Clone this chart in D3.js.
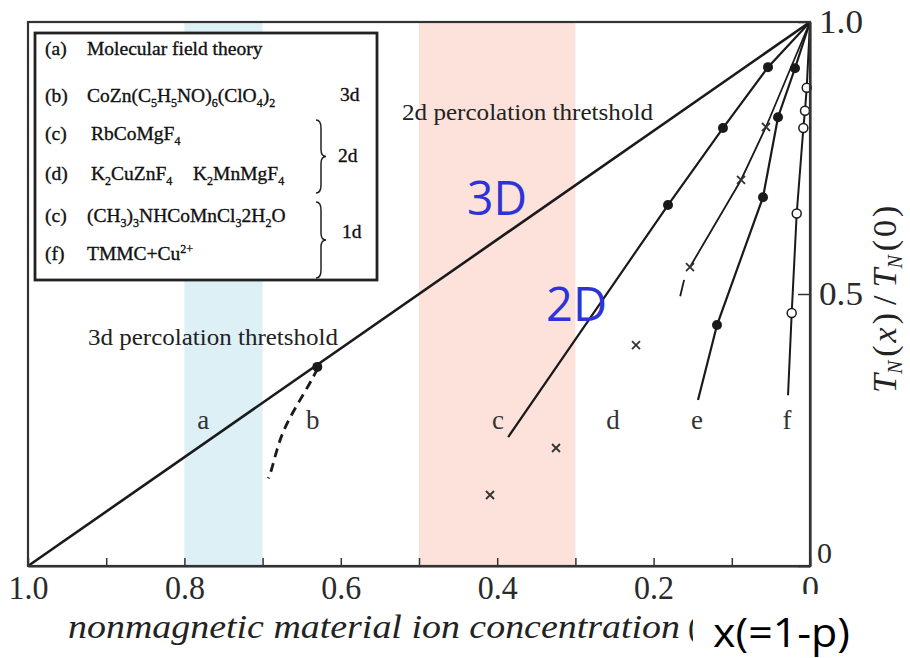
<!DOCTYPE html>
<html><head><meta charset="utf-8">
<script src="https://cdn.jsdelivr.net/npm/d3@7/dist/d3.min.js"></script>
<style>body{margin:0;background:#fff}svg{display:block}</style>
</head><body><svg id="c" width="910" height="658"></svg>
<script>
// ---------- data ----------
const xTickValues = [1.0,0.9,0.8,0.7,0.6,0.5,0.4,0.3,0.2,0.1,0];
const xTickLabels = ["1.0","","0.8","","0.6","","0.4","","0.2","","0"];
const yTickValues = [0,0.5,1.0];
const yTickLabels = ["0","0.5","1.0"];
const band3d = [0.8,0.7];
const band2d = [0.5,0.3];
const lineA = [[1,0],[0,1]];
const curveB = [[0.6295,0.3634],[0.6394,0.3358],[0.6586,0.2899],[0.6735,0.25],[0.682,0.2132],[0.6897,0.1704],[0.6927,0.1612]];
const dotsB = [[0.6300,0.366]];
const lineC = [[0.386,0.237],[0.1816,0.6636],[0.1113,0.805],[0.0537,0.917],[0,1]];
const dotsC = [[0.1816,0.6636],[0.1113,0.805],[0.0537,0.917]];
const lineD = [[0.1535,0.5496],[0.0882,0.7096],[0.0563,0.807],[0,1]];
const dashD = [[0.161,0.526],[0.166,0.496]];
const crossesD = [[0.0563,0.807],[0.0882,0.7096],[0.1535,0.5496],[0.2225,0.406],[0.3248,0.2169],[0.4092,0.1305]];
const lineE = [[0.1432,0.305],[0.1189,0.443],[0.0601,0.678],[0.0409,0.825],[0.0192,0.915],[0,1]];
const dotsE = [[0.1189,0.443],[0.0601,0.678],[0.0409,0.825],[0.0192,0.915]];
const lineF = [[0.0281,0.314],[0.0234,0.465],[0.017,0.648],[0.0085,0.805],[0.0064,0.837],[0.0042,0.879],[0,1]];
const circlesF = [[0.0234,0.465],[0.017,0.648],[0.0085,0.805],[0.0064,0.837],[0.0042,0.879]];
const curveNames = ["a","b","c","d","e","f"];
const curveNameX = [0.776,0.636,0.399,0.252,0.1445,0.0294];
const curveNameY = 0.252;
const legendTags = ["(a)","(b)","(c)","(d)","(c)","(f)"];
const legendRows = ["Molecular field theory","CoZn(C_5H_5NO)_6(ClO_4)_2","RbCoMgF_4","K_2CuZnF_4","(CH_3)_3NHCoMnCl_32H_2O","TMMC+Cu^2+"];
const legendExtra = "K_2MnMgF_4";
const groupLabels = ["3d","2d","1d"];
const perc3d = "3d percolation thretshold";
const perc2d = "2d percolation thretshold";
const dimLabels = ["3D","2D"];
const xTitle = "nonmagnetic material ion concentration";
const xTitle2 = "x(=1-p)";

// ---------- drawing ----------
const SERIF = "'Liberation Serif','Times New Roman',serif";
const svg = d3.select("#c");
svg.append("rect").attr("width",910).attr("height",658).attr("fill","#fff");
const x = d3.scaleLinear().domain([1,0]).range([28,810]);
const y = d3.scaleLinear().domain([0,1]).range([566,22]);
const line = d3.line().x(d=>x(d[0])).y(d=>y(d[1]));

// bands
[[band3d,"#dcf0f6"],[band2d,"#fce2da"]].forEach(([b,c])=>{
  svg.append("rect").attr("x",x(b[0])).attr("y",y(1)).attr("width",x(b[1])-x(b[0]))
    .attr("height",y(0)-y(1)).attr("fill",c);
});

// legend box
svg.append("rect").attr("x",35).attr("y",33).attr("width",342).attr("height",247)
  .attr("fill","#fff").attr("stroke","#222").attr("stroke-width",2.8);

function addRich(t, str){
  const parts = str.split(/(_\d|\^\d\+)/).filter(s=>s!=="");
  let shift=0;
  parts.forEach(p=>{
    let s=p, size=null, target=0;
    if(p[0]==="_"){s=p.slice(1);size=12;target=5;}
    else if(p[0]==="^"){s=p.slice(1);size=12;target=-7;}
    const ts=t.append("tspan").text(s).attr("dy",target-shift);
    if(size) ts.attr("font-size",size);
    shift=target;
  });
}
const rowY=[55,102,140,180,222,260];
function legText(xx,yy){
  return svg.append("text").attr("x",xx).attr("y",yy).attr("font-family",SERIF)
    .attr("font-size",19.5).attr("fill","#111").attr("stroke","#111").attr("stroke-width",0.35);
}
legendRows.forEach((r,i)=>{
  legText(45,rowY[i]).text(legendTags[i]);
  addRich(legText(i===2||i===3?91:87,rowY[i]),r);
});
addRich(legText(193,rowY[3]),legendExtra);
const groupY=[101,162,238], groupX=[340,338,342];
groupLabels.forEach((g,i)=>legText(groupX[i],groupY[i]).text(g));
function brace(x0,y0,y1){
  const m=(y0+y1)/2;
  return `M${x0},${y0} Q${x0+5},${y0} ${x0+5},${y0+8} L${x0+5},${m-7} Q${x0+5},${m} ${x0+10},${m} Q${x0+5},${m} ${x0+5},${m+7} L${x0+5},${y1-8} Q${x0+5},${y1} ${x0},${y1}`;
}
svg.append("path").attr("d",brace(316,120,193)).attr("fill","none").attr("stroke","#222").attr("stroke-width",1.5);
svg.append("path").attr("d",brace(316,202,278)).attr("fill","none").attr("stroke","#222").attr("stroke-width",1.5);

// lines
const ink="#1a1a1a";
svg.append("path").attr("d",line(lineA)).attr("fill","none").attr("stroke",ink).attr("stroke-width",2.6);
svg.append("path").attr("d",line.curve(d3.curveBasis)(curveB)).attr("fill","none").attr("stroke",ink)
  .attr("stroke-width",2.8).attr("stroke-dasharray","9,6");
line.curve(d3.curveLinear);
svg.append("path").attr("d",line(lineC)).attr("fill","none").attr("stroke",ink).attr("stroke-width",2.2);
svg.append("path").attr("d",line(lineD)).attr("fill","none").attr("stroke",ink).attr("stroke-width",1.8);
svg.append("path").attr("d",line(dashD)).attr("fill","none").attr("stroke",ink).attr("stroke-width",1.8);
svg.append("path").attr("d",line(lineE)).attr("fill","none").attr("stroke",ink).attr("stroke-width",2.2);
svg.append("path").attr("d",line(lineF)).attr("fill","none").attr("stroke",ink).attr("stroke-width",2);

// markers
svg.selectAll(null).data([...dotsB,...dotsC,...dotsE]).join("circle")
  .attr("cx",d=>x(d[0])).attr("cy",d=>y(d[1])).attr("r",5).attr("fill",ink);
svg.selectAll(null).data(circlesF).join("circle")
  .attr("cx",d=>x(d[0])).attr("cy",d=>y(d[1])).attr("r",4.5).attr("fill","#fff")
  .attr("stroke",ink).attr("stroke-width",1.5);
svg.selectAll(null).data(crossesD).join("path")
  .attr("transform",d=>`translate(${x(d[0])},${y(d[1])})`)
  .attr("d","M-4,-4L4,4M-4,4L4,-4").attr("stroke","#333").attr("stroke-width",1.8).attr("fill","none");

// frame
svg.append("rect").attr("x",x(1)).attr("y",y(1)).attr("width",x(0)-x(1)).attr("height",y(0)-y(1))
  .attr("fill","none").attr("stroke","#333").attr("stroke-width",2.2);

// axes
const gx=svg.append("g").attr("transform",`translate(0,${y(0)})`)
  .call(d3.axisBottom(x).tickValues(xTickValues).tickSize(-8).tickSizeOuter(0).tickFormat((d,i)=>xTickLabels[i]));
gx.select(".domain").attr("stroke","#333").attr("stroke-width",2.2);
gx.selectAll(".tick line").attr("stroke","#333").attr("stroke-width",1.5);
gx.selectAll("text").attr("y",33).attr("dy",null).attr("font-family",SERIF).attr("font-size",34)
  .attr("fill","#2a2a2a").each(function(){const s=this.textContent; if(s.length>1){d3.select(this).attr("textLength",40).attr("lengthAdjust","spacingAndGlyphs");}});
const gy=svg.append("g").attr("transform",`translate(${x(0)},0)`)
  .call(d3.axisRight(y).tickValues(yTickValues).tickSize(-12).tickSizeOuter(0).tickFormat((d,i)=>yTickLabels[i]));
gy.select(".domain").attr("stroke","#333").attr("stroke-width",2.2);
gy.selectAll(".tick line").attr("stroke","#333").attr("stroke-width",1.5);
gy.selectAll("text").attr("x",9).attr("dy","0.3em").attr("font-family",SERIF).attr("font-size",34)
  .attr("fill","#2a2a2a").attr("text-anchor","start").each(function(){const s=this.textContent; if(s.length>1){d3.select(this).attr("textLength",44).attr("lengthAdjust","spacingAndGlyphs");}});
gy.selectAll(".tick").filter(d=>d===0).select("text").attr("dy","-0.12em").attr("x",7).attr("font-size",30);

// curve labels
curveNames.forEach((n,i)=>svg.append("text").attr("x",x(curveNameX[i])).attr("y",y(curveNameY))
  .attr("text-anchor","middle").attr("font-family",SERIF).attr("font-size",27).attr("fill","#333").text(n));

// percolation labels
svg.append("text").attr("x",88).attr("y",345).attr("font-family",SERIF).attr("font-size",24)
  .attr("fill","#222").attr("textLength",250).attr("lengthAdjust","spacingAndGlyphs").text(perc3d);
svg.append("text").attr("x",402).attr("y",120).attr("font-family",SERIF).attr("font-size",24)
  .attr("fill","#222").attr("textLength",251).attr("lengthAdjust","spacingAndGlyphs").text(perc2d);

// 3D / 2D
const DIM="'Open Sans','DejaVu Sans',sans-serif";
svg.append("text").attr("x",467).attr("y",215).attr("font-family",DIM).attr("font-size",47)
  .attr("fill","#2d33d6").attr("textLength",60).attr("lengthAdjust","spacingAndGlyphs").text(dimLabels[0]);
svg.append("text").attr("x",546).attr("y",321).attr("font-family",DIM).attr("font-size",47)
  .attr("fill","#2d33d6").attr("textLength",61).attr("lengthAdjust","spacingAndGlyphs").text(dimLabels[1]);

// x title
svg.append("text").attr("x",68).attr("y",638).attr("font-family",SERIF).attr("font-style","italic")
  .attr("font-size",34).attr("fill","#222").attr("textLength",612).attr("lengthAdjust","spacingAndGlyphs").text(xTitle);
svg.append("text").attr("x",688).attr("y",638).attr("font-family",SERIF).attr("font-size",31).attr("fill","#222").text("(");
svg.append("rect").attr("x",693).attr("y",594).attr("width",217).attr("height",64).attr("fill","#fff");
svg.append("text").attr("x",713).attr("y",647).attr("font-family",DIM).attr("font-size",40)
  .attr("fill","#000").attr("textLength",137).attr("lengthAdjust","spacingAndGlyphs").text(xTitle2);

// y title
const yt=svg.append("text").attr("transform","translate(896,393) rotate(-90)")
  .attr("font-family",SERIF).attr("font-size",34).attr("fill","#222");
yt.append("tspan").attr("font-style","italic").text("T");
yt.append("tspan").attr("font-style","italic").attr("font-size",20).attr("dy",6).text("N");
yt.append("tspan").attr("dy",-6).attr("dx",4).text("(");
yt.append("tspan").attr("font-style","italic").attr("dx",3).text("x");
yt.append("tspan").attr("dx",3).text(")");
yt.append("tspan").attr("dx",8).text("/");
yt.append("tspan").attr("dx",8).attr("font-style","italic").text("T");
yt.append("tspan").attr("font-style","italic").attr("font-size",20).attr("dy",6).text("N");
yt.append("tspan").attr("dy",-6).attr("dx",4).text("(");
yt.append("tspan").attr("dx",3).text("0");
yt.append("tspan").attr("dx",3).text(")");
</script></body></html>
